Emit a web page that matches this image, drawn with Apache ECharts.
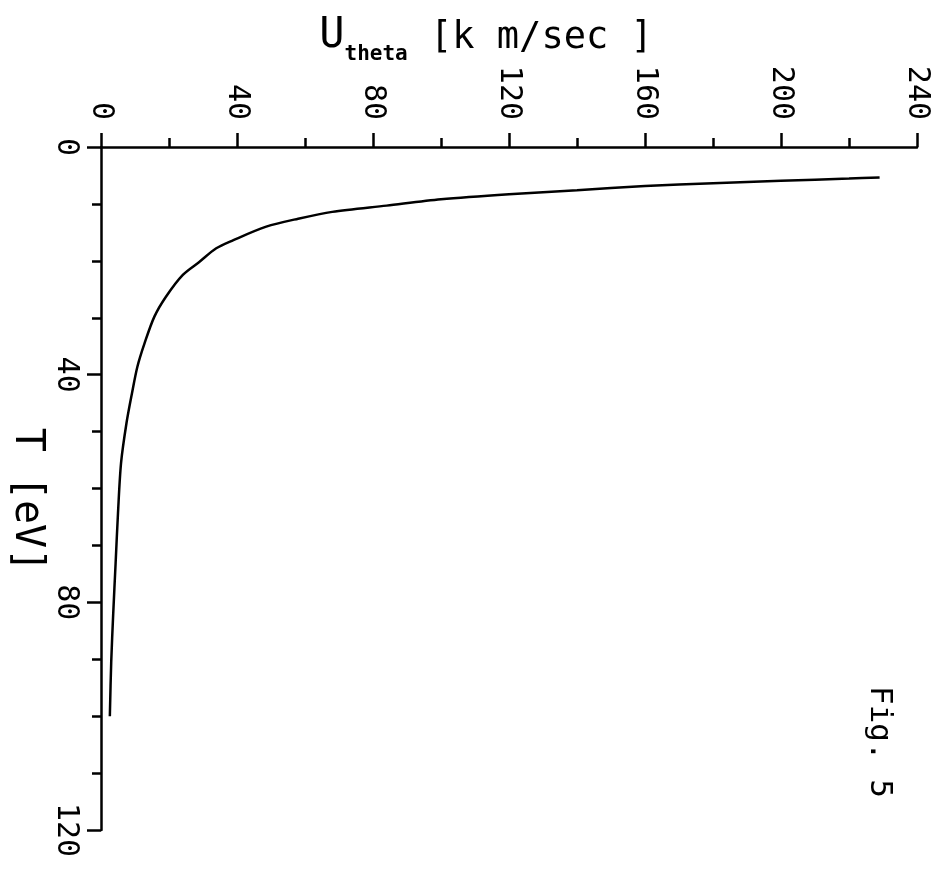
<!DOCTYPE html>
<html>
<head>
<meta charset="utf-8">
<script src="https://cdn.jsdelivr.net/npm/echarts@6/dist/echarts.min.js"></script>
<style>
html,body{margin:0;padding:0;background:#fff;}
#chart{width:936px;height:876px;}
</style>
</head>
<body>
<div id="chart"></div>
<script>
// Temperature T [eV] (vertical axis, increasing downward)
var tValues = [5.35, 5.55, 5.95, 6.35, 6.85, 7.6, 8.3, 9.2, 10.3, 11.4, 12.6, 14.0, 16.4, 17.8, 20.2, 22.5, 26.3, 29.8, 34.5, 38.6, 43.3, 48.5, 55.5, 64.3, 73.1, 81.9, 90.6, 100];
// U_theta [km/sec] (horizontal axis)
var uValues = [229, 220, 200, 180, 160, 140, 120, 100, 84, 68, 58, 48.6, 38.8, 33.9, 28.9, 24.0, 19.1, 15.7, 12.8, 10.7, 9.1, 7.5, 5.9, 5.0, 4.3, 3.6, 3.0, 2.6];
var uTicks = [0, 40, 80, 120, 160, 200, 240];
var tTicks = [0, 40, 80, 120];

var FONT = 'DejaVu Sans Mono';
var chart = echarts.init(document.getElementById('chart'));
var pts = tValues.map(function (t, i) { return [uValues[i], t]; });

chart.setOption({
  animation: false,
  backgroundColor: '#fff',
  grid: { left: 101, top: 147, right: 19, bottom: 46, containLabel: false },
  xAxis: {
    type: 'value', position: 'top', min: uTicks[0], max: uTicks[uTicks.length - 1], interval: 40,
    axisLine: { show: true, lineStyle: { color: '#000', width: 2.5 } },
    axisTick: { show: true, inside: false, length: 14, lineStyle: { color: '#000', width: 2.5 } },
    minorTick: { show: true, splitNumber: 2, length: 9, lineStyle: { color: '#000', width: 2.5 } },
    splitLine: { show: false },
    axisLabel: { show: true, rotate: -90, margin: 27, color: '#000', fontFamily: FONT, fontSize: 30 }
  },
  yAxis: {
    type: 'value', inverse: true, min: tTicks[0], max: tTicks[tTicks.length - 1], interval: 40,
    axisLine: { show: true, lineStyle: { color: '#000', width: 2.5 } },
    axisTick: { show: true, inside: false, length: 14, lineStyle: { color: '#000', width: 2.5 } },
    minorTick: { show: true, splitNumber: 4, length: 9, lineStyle: { color: '#000', width: 2.5 } },
    splitLine: { show: false },
    axisLabel: { show: true, rotate: -90, margin: 20, color: '#000', fontFamily: FONT, fontSize: 30 }
  },
  series: [{
    type: 'line', data: pts, smooth: 0.3, showSymbol: false, symbol: 'none',
    lineStyle: { color: '#000', width: 2.5 }
  }],
  graphic: [
    {
      type: 'text', x: 486, y: 36,
      style: {
        text: '{u|U}{s|theta}{m| [k m/sec ]}',
        align: 'center', verticalAlign: 'middle', fill: '#000',
        rich: {
          u: { fontFamily: FONT, fontSize: 42, fill: '#000', verticalAlign: 'bottom' },
          s: { fontFamily: FONT, fontSize: 21, fontWeight: 'bold', fill: '#000', verticalAlign: 'bottom', padding: [0, 0, -8, 0] },
          m: { fontFamily: FONT, fontSize: 37, fill: '#000', verticalAlign: 'bottom' }
        }
      }
    },
    {
      type: 'text', x: 26, y: 500, rotation: -Math.PI / 2,
      style: { text: 'T [eV]', align: 'center', verticalAlign: 'middle', fontFamily: FONT, fontSize: 40, fill: '#000' }
    },
    {
      type: 'text', x: 879, y: 742, rotation: -Math.PI / 2,
      style: { text: 'Fig. 5', align: 'center', verticalAlign: 'middle', fontFamily: FONT, fontSize: 31, fill: '#000' }
    }
  ]
});
</script>
</body>
</html>
